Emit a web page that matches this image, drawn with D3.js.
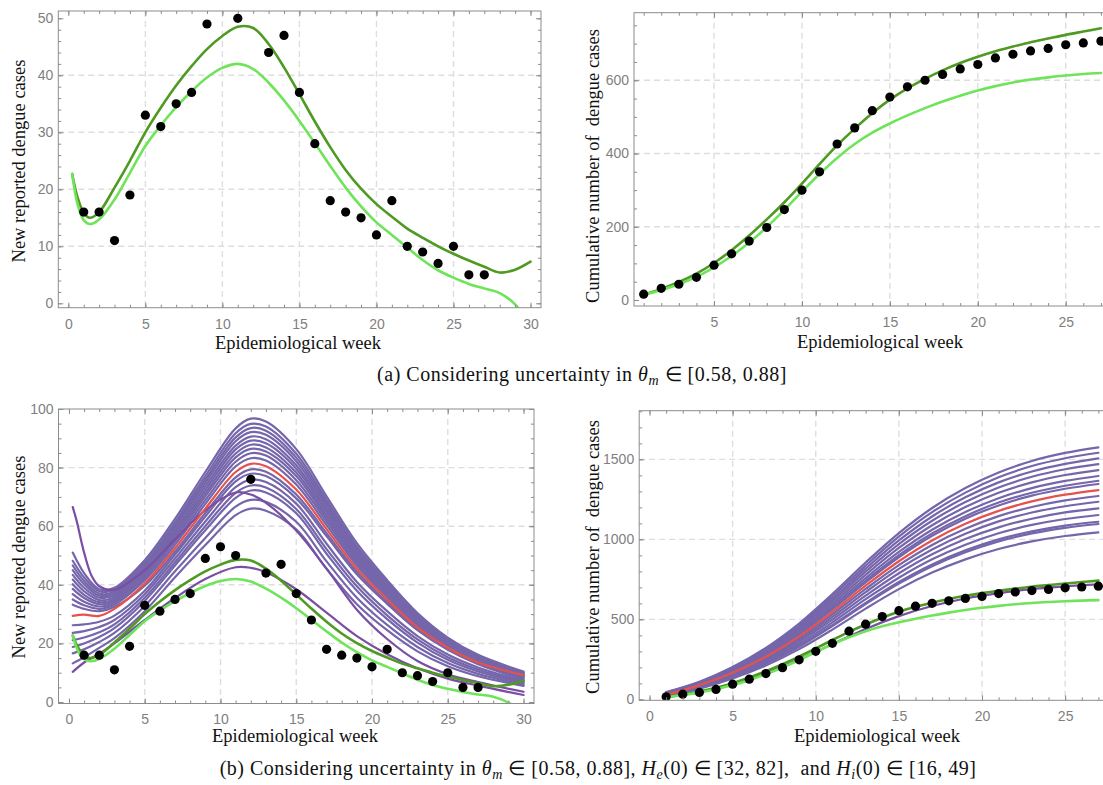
<!DOCTYPE html>
<html>
<head>
<meta charset="utf-8">
<script src="https://cdn.jsdelivr.net/npm/d3@7"></script>
<style>
  body { margin: 0; background: #fff; }
  svg { display: block; }
  .tick-label { font-family: "Liberation Sans", Arial, sans-serif; font-size: 14px; fill: #7f7f7f; }
  .axis-title { font-family: "Liberation Serif", "Times New Roman", serif; font-size: 18.5px; fill: #111; white-space: pre; }
  .cap { font-family: "Liberation Serif", "Times New Roman", serif; font-size: 20px; fill: #111; letter-spacing: 0.5px; white-space: pre; }
</style>
</head>
<body>
<svg id="fig" width="1103" height="785"></svg>
<script>
// ---- observed data: epidemiological weeks 1..27 ----
const weeks = [1,2,3,4,5,6,7,8,9,10,11,12,13,14,15,16,17,18,19,20,21,22,23,24,25,26,27];
const newCases = [16,16,11,19,33,31,35,37,49,53,50,76,44,47,37,28,18,16,15,12,18,10,9,7,10,5,5];
const cumCases = [16,32,43,62,95,126,161,198,247,300,350,426,470,517,554,582,600,616,631,643,661,671,680,687,697,702,707];

// ---- green model curves (theta_m bounds) ----
const fitWeeks = [0.25,0.6,1,1.4,2,3,4,5,6,7,8,9,10,11,12,13,14,15,16,17,18,19,20,21,22,23,24,25,26,27,28,29,30];
const fitNewUpper = [22.7,18.6,15.9,15.0,16.0,20.3,25.0,30.0,34.3,38.2,41.6,44.6,46.9,48.5,48.3,45.5,41.4,36.7,31.9,27.4,23.4,20.1,17.4,15.2,13.1,11.5,10.0,8.7,7.5,6.4,5.4,5.9,7.3];
const fitNewLower = [22.7,17.4,14.6,13.9,14.7,18.2,22.9,27.6,31.2,34.4,37.2,39.6,41.3,42.0,41.1,38.7,35.6,32.0,28.1,24.1,20.3,17.0,14.2,12.0,9.8,7.6,5.8,4.5,3.4,2.6,1.8,-0.2,-4.0];
const fitCumUpper = [14,30,49,72,101,136,176,220,267,318,371,422,468,510,547,578,604,627,647,664,679,692,704,714,724,733,742];
const fitCumLower = [13,27,43,63,89,120,157,199,246,296,344,388,426,457,482,504,524,542,558,572,584,594,602,608,613,617,620];

// ---- purple family (theta_m, He(0), Hi(0) varied) : new cases ----
const familyWeeks = [0.25,1,2,3,5,7,9,11,12,13,15,17,19,21,23,25,27,30];
const familyNew = [
  [51.0,44.0,38.5,39.0,48.4,62.5,78.5,93.4,96.7,95.7,86.3,70.2,54.2,41.6,30.4,22.0,16.1,10.4],
  [48.2,42.5,37.8,38.3,47.5,61.3,77.1,91.7,94.9,94.0,84.7,68.9,53.1,40.8,29.8,21.6,15.8,10.1],
  [46.6,41.3,37.0,37.6,46.8,60.4,75.9,90.3,93.5,92.6,83.4,67.9,52.4,40.2,29.4,21.3,15.5,9.9],
  [45.0,40.2,36.3,37.0,46.0,59.5,74.8,89.0,92.1,91.2,82.2,66.9,51.6,39.6,28.9,21.0,15.3,9.7],
  [43.4,39.0,35.6,36.4,45.3,58.5,73.6,87.5,90.6,89.7,80.8,65.8,50.7,39.0,28.4,20.7,15.0,9.4],
  [41.8,37.8,34.8,35.8,44.6,57.6,72.4,86.2,89.2,88.3,79.6,64.8,50.0,38.4,28.0,20.3,14.8,9.2],
  [40.2,36.6,34.1,35.2,43.9,56.7,71.3,84.8,87.8,86.9,78.3,63.7,49.2,37.8,27.6,20.0,14.6,9.0],
  [38.6,35.5,33.4,34.6,43.2,55.8,70.2,83.5,86.4,85.5,77.1,62.7,48.4,37.2,27.1,19.7,14.3,8.8],
  [36.8,34.2,32.6,34.0,42.4,54.8,68.9,82.0,84.9,84.1,75.7,61.6,47.5,36.5,26.7,19.4,14.1,8.6],
  [35.0,33.0,31.8,33.3,41.6,53.7,67.6,80.4,83.2,82.4,74.2,60.4,46.6,35.8,26.1,19.0,13.8,8.4],
  [33.2,31.8,31.0,32.5,39.7,51.3,64.5,76.7,79.4,78.6,70.8,57.6,44.5,34.1,24.9,18.1,13.2,8.0],
  [26.2,26.5,27.4,29.5,38.0,50.3,63.3,75.3,77.9,77.1,69.5,56.6,43.6,33.5,24.5,17.8,12.9,7.7],
  [23.6,24.2,25.6,28.0,36.8,49.0,61.6,73.3,75.9,75.1,67.7,54.0,41.0,31.0,22.5,16.2,11.8,7.2],
  [21.1,22.0,23.8,26.5,35.6,47.7,60.0,71.4,73.9,73.2,65.9,52.2,39.5,29.6,21.4,15.3,11.1,6.8],
  [18.8,20.0,22.2,25.2,34.5,46.6,58.6,69.7,72.2,71.5,64.4,50.6,38.0,28.3,20.3,14.4,10.4,6.4],
  [16.6,18.0,20.5,23.6,32.8,44.6,56.0,66.7,69.0,68.3,61.5,48.0,35.6,26.3,18.8,13.3,9.6,5.9],
  [13.2,15.3,18.5,21.8,31.0,42.6,53.6,63.8,66.0,65.3,58.9,45.5,33.4,24.5,17.3,12.2,8.8,5.5]
];
const lateNew = [10.3,13.5,16.5,20.0,28.0,35.5,42.0,46.0,45.8,44.3,38.5,30.5,22.5,16.3,11.5,8.0,5.6,2.4];
const bestNew = [29.4,29.8,29.4,31.8,40.4,52.5,66.0,78.5,81.3,80.5,72.5,59.0,45.5,35.0,25.5,18.5,13.5,9.2];
const steepWeeks = [0.25,0.5,1,1.5,2,3,5,7,9,11,12,13,15,17,19,21,23,25,27,30];
const steepNew = [66.5,62.0,51.0,43.0,39.5,38.3,45.0,55.5,65.5,71.5,70.8,68.0,58.5,45.5,31.5,21.5,14.0,9.5,6.8,3.5];

// ---- purple family : cumulative cases ----
const familyCumWeeks = [1,3,5,7,9,11,13,15,17,19,21,23,25,27];
const familyCum = [
  [45,110,202,322,474,658,855,1039,1196,1321,1418,1490,1540,1575],
  [42,106,196,314,463,643,836,1017,1170,1292,1388,1458,1507,1541],
  [40,103,191,306,452,628,817,993,1143,1263,1356,1424,1472,1506],
  [38,100,186,299,442,614,798,970,1116,1233,1324,1391,1438,1470],
  [36,97,181,291,431,598,778,946,1088,1202,1291,1356,1402,1433],
  [34,94,176,283,419,583,758,921,1060,1171,1257,1320,1365,1396],
  [32,92,172,277,410,570,741,901,1037,1145,1230,1291,1335,1366],
  [30,90,170,273,404,562,731,888,1022,1129,1212,1273,1316,1346],
  [26,84,160,258,382,531,690,839,965,1066,1145,1202,1243,1271],
  [25,82,156,251,371,515,670,815,937,1035,1112,1168,1207,1235],
  [23,78,150,243,359,498,648,788,907,1002,1075,1129,1168,1194],
  [21,75,145,234,346,481,626,760,875,966,1038,1090,1127,1152],
  [19,72,140,226,334,464,603,733,843,931,1000,1050,1086,1110],
  [18,70,138,223,329,458,595,723,832,919,987,1037,1072,1096],
  [16,66,131,212,314,436,567,689,792,875,940,987,1021,1044]
];
const lateCum = [13,45,95,165,250,345,440,520,583,630,664,689,706,718];
const bestCum = [28,89,166,266,393,546,710,863,993,1097,1178,1237,1279,1308];

// ---- tick labels ----
const weekTicksFull = [0,5,10,15,20,25,30];
const weekTicksCum = [5,10,15,20,25];
const weekTicksCumB = [0,5,10,15,20,25];
const newTicksA = [0,10,20,30,40,50];
const newTicksB = [0,20,40,60,80,100];
const cumTicksA = [0,200,400,600];
const cumTicksB = [0,500,1000,1500];

// ---- styling ----
const C = {
  dark: "#4f9a22",
  light: "#6fe45a",
  purple: "#7566ab",
  purpleDeep: "#7a4ea3",
  red: "#e5524e",
  frame: "#8c8c8c",
  grid: "#dedede"
};

const svg = d3.select("#fig");
const defs = svg.append("defs");

function makePanel(cfg) {
  const x = d3.scaleLinear().domain(cfg.xDomain).range([cfg.left, cfg.right]);
  const y = d3.scaleLinear().domain(cfg.yDomain).range([cfg.bottom, cfg.top]);
  const clipId = "clip-" + cfg.id;
  defs.append("clipPath").attr("id", clipId).append("rect")
    .attr("x", cfg.left).attr("y", cfg.top)
    .attr("width", cfg.right - cfg.left).attr("height", cfg.bottom - cfg.top);
  const g = svg.append("g");
  // dashed grid
  const grid = g.append("g").attr("clip-path", `url(#${clipId})`);
  grid.selectAll("line.gx").data(cfg.gridX).join("line")
    .attr("x1", d => x(d)).attr("x2", d => x(d))
    .attr("y1", cfg.top).attr("y2", cfg.bottom)
    .attr("stroke", C.grid).attr("stroke-width", 1.4).attr("stroke-dasharray", "6,4");
  grid.selectAll("line.gy").data(cfg.gridY).join("line")
    .attr("y1", d => y(d)).attr("y2", d => y(d))
    .attr("x1", cfg.left).attr("x2", cfg.right)
    .attr("stroke", C.grid).attr("stroke-width", 1.4).attr("stroke-dasharray", "6,4");
  const plot = g.append("g").attr("clip-path", `url(#${clipId})`);
  return { cfg, x, y, g, plot };
}

function drawLine(p, xs, ys, color, width) {
  const line = d3.line().x(d => p.x(d[0])).y(d => p.y(d[1])).curve(d3.curveCatmullRom.alpha(0.5));
  p.plot.append("path")
    .attr("d", line(d3.zip(xs, ys)))
    .attr("fill", "none").attr("stroke", color)
    .attr("stroke-width", width).attr("stroke-linejoin", "round").attr("stroke-linecap", "round");
}

function drawDots(p, xs, ys) {
  p.plot.selectAll(null).data(d3.zip(xs, ys)).join("circle")
    .attr("cx", d => p.x(d[0])).attr("cy", d => p.y(d[1]))
    .attr("r", 4.6).attr("fill", "#000");
}

function styleAxis(sel) {
  sel.select(".domain").remove();
  sel.selectAll(".tick line").attr("stroke", C.frame).attr("stroke-width", 1);
  sel.selectAll(".tick text").attr("class", "tick-label").attr("fill", null);
  sel.attr("font-family", null).attr("font-size", null);
}

function drawFrame(p, xTicks, yTicks, xMinor, yMinor) {
  const { cfg, x, y, g } = p;
  const inRangeX = v => v >= cfg.xDomain[0] && v <= cfg.xDomain[1];
  const inRangeY = v => v >= cfg.yDomain[0] && v <= cfg.yDomain[1];
  const xm = xMinor.filter(inRangeX), ym = yMinor.filter(inRangeY);
  // minor ticks on all four sides (inward)
  g.append("g").attr("transform", `translate(0,${cfg.bottom})`)
    .call(d3.axisBottom(x).tickValues(xm).tickSize(-3).tickFormat("")).call(styleAxis);
  g.append("g").attr("transform", `translate(0,${cfg.top})`)
    .call(d3.axisTop(x).tickValues(xm).tickSize(-3).tickFormat("")).call(styleAxis);
  g.append("g").attr("transform", `translate(${cfg.left},0)`)
    .call(d3.axisLeft(y).tickValues(ym).tickSize(-3).tickFormat("")).call(styleAxis);
  g.append("g").attr("transform", `translate(${cfg.right},0)`)
    .call(d3.axisRight(y).tickValues(ym).tickSize(-3).tickFormat("")).call(styleAxis);
  // major ticks with labels
  g.append("g").attr("transform", `translate(0,${cfg.bottom})`)
    .call(d3.axisBottom(x).tickValues(xTicks).tickSize(-5).tickPadding(11).tickFormat(d3.format("d"))).call(styleAxis);
  g.append("g").attr("transform", `translate(0,${cfg.top})`)
    .call(d3.axisTop(x).tickValues(xTicks).tickSize(-5).tickFormat("")).call(styleAxis);
  g.append("g").attr("transform", `translate(${cfg.left},0)`)
    .call(d3.axisLeft(y).tickValues(yTicks).tickSize(-5).tickPadding(5).tickFormat(d3.format("d"))).call(styleAxis);
  g.append("g").attr("transform", `translate(${cfg.right},0)`)
    .call(d3.axisRight(y).tickValues(yTicks).tickSize(-5).tickFormat("")).call(styleAxis);
  g.append("rect")
    .attr("x", cfg.left).attr("y", cfg.top)
    .attr("width", cfg.right - cfg.left).attr("height", cfg.bottom - cfg.top)
    .attr("fill", "none").attr("stroke", C.frame).attr("stroke-width", 1);
}

function titles(p, xTitle, yTitle) {
  const { cfg } = p;
  svg.append("text").attr("class", "axis-title")
    .attr("x", cfg.xTitle[0]).attr("y", cfg.xTitle[1])
    .attr("text-anchor", "middle").text(xTitle);
  svg.append("text").attr("class", "axis-title")
    .attr("transform", `translate(${cfg.yTitle[0]},${cfg.yTitle[1]}) rotate(-90)`)
    .attr("text-anchor", "middle").text(yTitle);
}

// ---------- (a) left: weekly new cases ----------
const pA1 = makePanel({
  id: "a1", left: 58.3, right: 541, top: 11, bottom: 307.7,
  xDomain: [-0.65, 30.68], yDomain: [-0.77, 51.28],
  gridX: [5,10,15,20,25], gridY: [10,20,30,40],
  xTitle: [298, 348.5], yTitle: [25, 161]
});
drawLine(pA1, fitWeeks, fitNewUpper, C.dark, 2.6);
drawLine(pA1, fitWeeks, fitNewLower, C.light, 2.6);
drawDots(pA1, weeks, newCases);
drawFrame(pA1, weekTicksFull, newTicksA, d3.range(0, 31, 1), d3.range(0, 52, 2));
titles(pA1, "Epidemiological week", "New reported dengue cases");

// ---------- (a) right: cumulative cases ----------
const pA2 = makePanel({
  id: "a2", left: 634, right: 1122, top: 12.7, bottom: 306,
  xDomain: [0.45, 28.2], yDomain: [-16.4, 784.5],
  gridX: [5,10,15,20,25], gridY: [200,400,600],
  xTitle: [880, 348], yTitle: [599, 166]
});
drawLine(pA2, weeks, fitCumUpper, C.dark, 2.6);
drawLine(pA2, weeks, fitCumLower, C.light, 2.6);
drawDots(pA2, weeks, cumCases);
drawFrame(pA2, weekTicksCum, cumTicksA, d3.range(1, 29, 1), d3.range(0, 800, 50));
titles(pA2, "Epidemiological week", "Cumulative number of  dengue cases");

// ---------- (b) left: weekly new cases, full uncertainty ----------
const pB1 = makePanel({
  id: "b1", left: 58.5, right: 534, top: 409, bottom: 703.5,
  xDomain: [-0.69, 30.69], yDomain: [-0.5, 100],
  gridX: [5,10,15,20,25], gridY: [20,40,60,80],
  xTitle: [295, 742], yTitle: [25, 557]
});
familyNew.forEach(vals => drawLine(pB1, familyWeeks, vals, C.purple, 2.2));
drawLine(pB1, familyWeeks, lateNew, C.purpleDeep, 2.2);
drawLine(pB1, steepWeeks, steepNew, C.purpleDeep, 2.2);
drawLine(pB1, familyWeeks, bestNew, C.red, 2.2);
drawLine(pB1, fitWeeks, fitNewUpper, C.dark, 2.6);
drawLine(pB1, fitWeeks, fitNewLower, C.light, 2.6);
drawDots(pB1, weeks, newCases);
drawFrame(pB1, weekTicksFull, newTicksB, d3.range(0, 31, 1), d3.range(0, 101, 5));
titles(pB1, "Epidemiological week", "New reported dengue cases");

// ---------- (b) right: cumulative cases, full uncertainty ----------
const pB2 = makePanel({
  id: "b2", left: 639.2, right: 1115, top: 410.7, bottom: 700.3,
  xDomain: [-0.62, 28.0], yDomain: [-6, 1804],
  gridX: [5,10,15,20,25], gridY: [500,1000,1500],
  xTitle: [877, 742], yTitle: [599, 557]
});
familyCum.forEach(vals => drawLine(pB2, familyCumWeeks, vals, C.purple, 2.2));
drawLine(pB2, familyCumWeeks, lateCum, C.purpleDeep, 2.2);
drawLine(pB2, familyCumWeeks, bestCum, C.red, 2.2);
drawLine(pB2, weeks, fitCumUpper, C.dark, 2.6);
drawLine(pB2, weeks, fitCumLower, C.light, 2.6);
drawDots(pB2, weeks, cumCases);
drawFrame(pB2, weekTicksCumB, cumTicksB, d3.range(0, 29, 1), d3.range(0, 1801, 100));
titles(pB2, "Epidemiological week", "Cumulative number of  dengue cases");

// ---------- sub-captions ----------
const capA = svg.append("text").attr("class", "cap").attr("x", 582).attr("y", 381).attr("text-anchor", "middle");
capA.append("tspan").text("(a) Considering uncertainty in ");
capA.append("tspan").attr("font-style", "italic").text("θ");
capA.append("tspan").attr("font-style", "italic").attr("font-size", "14px").attr("dy", 4).text("m");
capA.append("tspan").attr("dy", -4).text(" ∈ [0.58, 0.88]");

const capB = svg.append("text").attr("class", "cap").attr("x", 598).attr("y", 775).attr("text-anchor", "middle");
capB.append("tspan").text("(b) Considering uncertainty in ");
capB.append("tspan").attr("font-style", "italic").text("θ");
capB.append("tspan").attr("font-style", "italic").attr("font-size", "14px").attr("dy", 4).text("m");
capB.append("tspan").attr("dy", -4).text(" ∈ [0.58, 0.88], ");
capB.append("tspan").attr("font-style", "italic").text("H");
capB.append("tspan").attr("font-style", "italic").attr("font-size", "14px").attr("dy", 4).text("e");
capB.append("tspan").attr("dy", -4).text("(0) ∈ [32, 82],  and ");
capB.append("tspan").attr("font-style", "italic").text("H");
capB.append("tspan").attr("font-style", "italic").attr("font-size", "14px").attr("dy", 4).text("i");
capB.append("tspan").attr("dy", -4).text("(0) ∈ [16, 49]");
</script>
</body>
</html>
